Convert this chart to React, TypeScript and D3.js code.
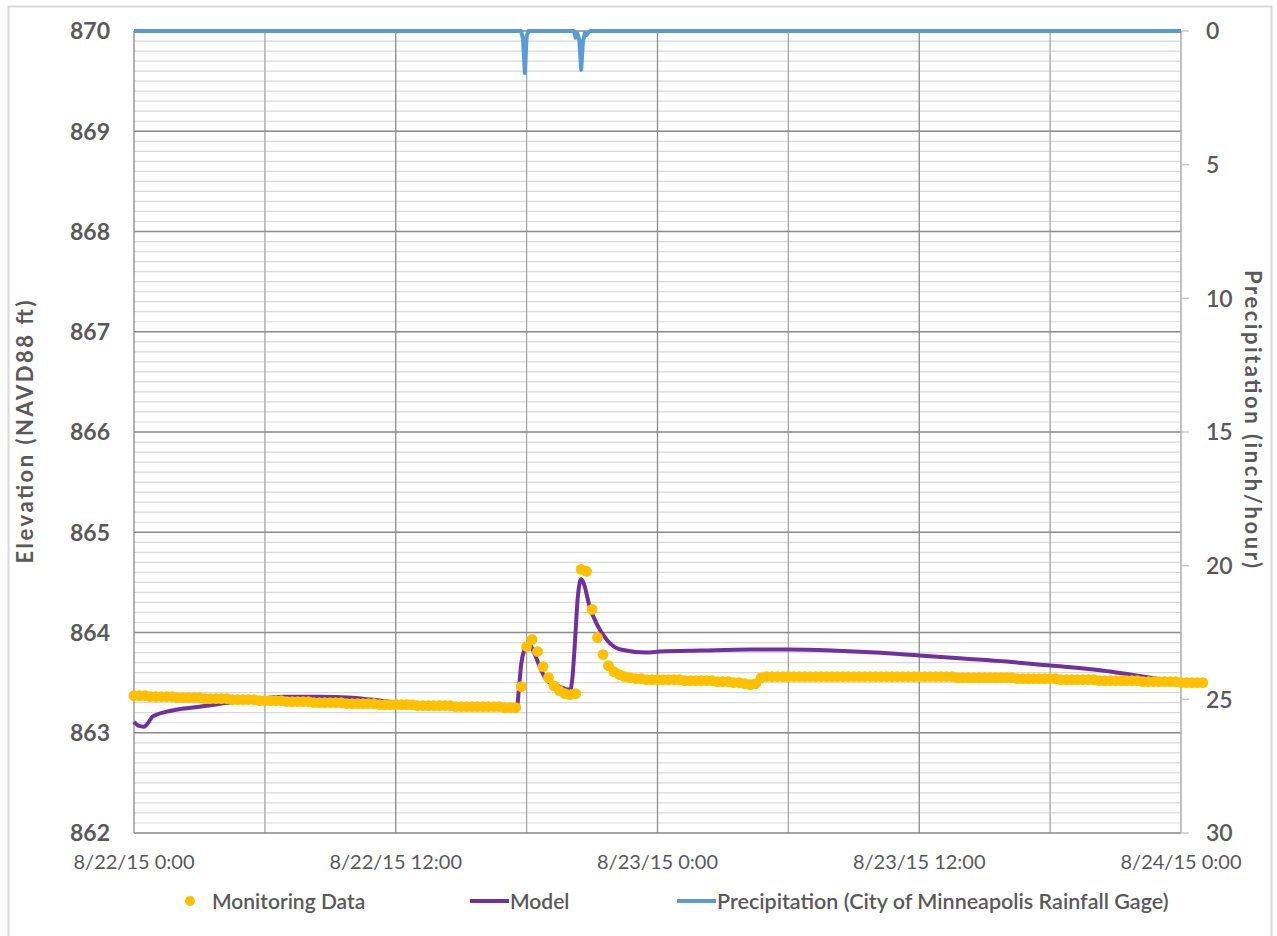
import React from "react";
import * as d3 from "d3";

// ---------- DATA ----------
const startDate = new Date(2015, 7, 22, 0, 0);
const xTickLabels = ["8/22/15 0:00", "8/22/15 12:00", "8/23/15 0:00", "8/23/15 12:00", "8/24/15 0:00"];
const xTickHours = [0, 12, 24, 36, 48];
const yLeftTicks = [862, 863, 864, 865, 866, 867, 868, 869, 870];
const yRightTicks = [0, 5, 10, 15, 20, 25, 30];

// Monitoring data, 15-minute readings from 8/22/15 0:00 to 8/24/15 0:00 (ft)
const monitoringValues = [
  863.37, 863.37, 863.37, 863.36, 863.36, 863.36, 863.36, 863.36,
  863.35, 863.35, 863.35, 863.35, 863.35, 863.34, 863.34, 863.34,
  863.34, 863.34, 863.33, 863.33, 863.33, 863.33, 863.33, 863.32,
  863.32, 863.32, 863.32, 863.32, 863.31, 863.31, 863.31, 863.31,
  863.31, 863.30, 863.30, 863.30, 863.30, 863.30, 863.30, 863.29,
  863.29, 863.29, 863.29, 863.29, 863.29, 863.28, 863.28, 863.28,
  863.28, 863.28, 863.28, 863.28, 863.27, 863.27, 863.27, 863.27,
  863.27, 863.27, 863.27, 863.26, 863.26, 863.26, 863.26, 863.26,
  863.26, 863.26, 863.26, 863.26, 863.25, 863.25, 863.25, 863.46,
  863.86, 863.93, 863.81, 863.66, 863.55, 863.47, 863.42, 863.39,
  863.38, 863.39, 864.63, 864.61, 864.23, 863.95, 863.78, 863.67,
  863.61, 863.58, 863.56, 863.55, 863.54, 863.54, 863.53, 863.53,
  863.53, 863.53, 863.53, 863.53, 863.53, 863.52, 863.52, 863.52,
  863.52, 863.52, 863.52, 863.51, 863.51, 863.51, 863.50, 863.50,
  863.49, 863.48, 863.49, 863.55, 863.56, 863.56, 863.56, 863.56,
  863.56, 863.56, 863.56, 863.56, 863.56, 863.56, 863.56, 863.56,
  863.56, 863.56, 863.56, 863.56, 863.56, 863.56, 863.56, 863.56,
  863.56, 863.56, 863.56, 863.56, 863.56, 863.56, 863.56, 863.56,
  863.56, 863.56, 863.56, 863.56, 863.56, 863.56, 863.56, 863.55,
  863.55, 863.55, 863.55, 863.55, 863.55, 863.55, 863.55, 863.55,
  863.55, 863.55, 863.54, 863.54, 863.54, 863.54, 863.54, 863.54,
  863.54, 863.54, 863.53, 863.53, 863.53, 863.53, 863.53, 863.53,
  863.53, 863.52, 863.52, 863.52, 863.52, 863.52, 863.52, 863.52,
  863.52, 863.51, 863.51, 863.51, 863.51, 863.51, 863.51, 863.51,
  863.50, 863.50, 863.50, 863.50, 863.50,
];

// Model output (hours since start, ft)
const modelHours = [
  0, 0.2, 0.45, 0.65, 0.85, 1.5, 3, 4.3, 5.5, 6.8, 8.5, 10, 11.7, 13, 15, 17, 17.55,
  17.65, 17.75, 17.9, 18.1, 18.3, 18.6, 18.9, 19.5, 20.0, 20.1, 20.2, 20.35, 20.5, 20.6,
  20.9, 21.2, 21.7, 22.3, 23.5, 24.1, 26, 28.2, 30, 32, 34, 36, 38, 40, 42, 44, 46, 48,
];
const modelValues = [
  863.11, 863.07, 863.06, 863.10, 863.16, 863.21, 863.26, 863.30, 863.33, 863.36, 863.36, 863.35, 863.31, 863.29, 863.27, 863.25, 863.25,
  863.45, 863.68, 863.83, 863.89, 863.82, 863.66, 863.53, 863.46, 863.43, 863.55, 863.85, 864.36, 864.53, 864.50,
  864.25, 864.09, 863.92, 863.83, 863.80, 863.81, 863.82, 863.83, 863.83, 863.82, 863.80, 863.77, 863.74, 863.71, 863.67, 863.63, 863.57, 863.50,
];

// Precipitation (hours since start, inch/hour)
const precipHours = [
  0, 17.75, 17.833, 17.917, 18.0, 18.083, 20.167, 20.25, 20.333, 20.417, 20.5, 20.583, 20.667, 20.75, 20.833, 20.917, 48,
];
const precipValues = [
  0, 0, 0.3, 1.57, 0.2, 0, 0, 0.25, 0.1, 0.35, 1.45, 0.4, 0.08, 0.15, 0.05, 0, 0,
];

// ---------- LAYOUT ----------
const W = 1277;
const H = 936;
const plot = { left: 134, right: 1181, top: 31, bottom: 833 };
const FONT = "Lato, 'Open Sans', 'DejaVu Sans', sans-serif";
const TEXT = "#595959";

const hourToDate = (h: number) => new Date(startDate.getTime() + h * 3600 * 1000);

export default function App() {
  const x = d3
    .scaleTime()
    .domain([hourToDate(0), hourToDate(48)])
    .range([plot.left, plot.right]);
  const y = d3.scaleLinear().domain([862, 870]).range([plot.bottom, plot.top]);
  const y2 = d3.scaleLinear().domain([0, 30]).range([plot.top, plot.bottom]);

  const minorY = y.ticks(80);
  const vGrid = d3.range(0, 49, 6);

  const modelLine = d3
    .line<number>()
    .x((_, i) => x(hourToDate(modelHours[i])))
    .y((d) => y(d))
    .curve(d3.curveMonotoneX);
  const precipLine = d3
    .line<number>()
    .x((_, i) => x(hourToDate(precipHours[i])))
    .y((d) => y2(d));

  const legendY = 901;

  return (
    <svg
      width={W}
      height={H}
      style={{ position: "absolute", left: 0, top: 0, background: "#fff" }}
      fontFamily={FONT}
    >
      <rect x={0} y={0} width={W} height={H} fill="#fff" />
      <rect x={8.5} y={6.5} width={1263} height={1000} fill="none" stroke="#D9D9D9" strokeWidth={2} />

      {/* minor horizontal grid */}
      {minorY.map((v, i) => (
        <line
          key={"mh" + i}
          x1={plot.left}
          x2={plot.right}
          y1={y(v)}
          y2={y(v)}
          stroke="#D9D9D9"
          strokeWidth={1.2}
        />
      ))}
      {/* vertical grid */}
      {vGrid.map((h) => (
        <line
          key={"vg" + h}
          x1={x(hourToDate(h))}
          x2={x(hourToDate(h))}
          y1={plot.top}
          y2={plot.bottom}
          stroke={h % 12 === 0 ? "#8C8C8C" : "#A6A6A6"}
          strokeWidth={h === 48 ? 1 : 1.3}
        />
      ))}
      {/* major horizontal grid */}
      {yLeftTicks.map((v) => (
        <line
          key={"MH" + v}
          x1={plot.left}
          x2={plot.right}
          y1={y(v)}
          y2={y(v)}
          stroke="#8C8C8C"
          strokeWidth={1.5}
        />
      ))}
      {/* right axis */}
      <line x1={plot.right} x2={plot.right} y1={plot.top} y2={plot.bottom} stroke="#BFBFBF" strokeWidth={1.2} />
      {yRightTicks.map((v) => (
        <g key={"rt" + v}>
          <line x1={plot.right} x2={plot.right + 8} y1={y2(v)} y2={y2(v)} stroke="#BFBFBF" strokeWidth={1.2} />
          <text
            x={plot.right + 25}
            y={y2(v)}
            dy="0.36em"
            fontSize={23}
            fontWeight={600}
            fill={TEXT}
          >
            {v}
          </text>
        </g>
      ))}

      {/* left tick labels */}
      {yLeftTicks.map((v) => (
        <text
          key={"lt" + v}
          x={110}
          y={y(v)}
          dy="0.36em"
          textAnchor="end"
          fontSize={23}
          fontWeight={700}
          fill={TEXT}
        >
          {v}
        </text>
      ))}

      {/* x tick labels */}
      {xTickLabels.map((lab, i) => (
        <text
          key={"xt" + i}
          x={x(hourToDate(xTickHours[i]))}
          y={862}
          dy="0.36em"
          textAnchor="middle"
          fontSize={20}
          fill={TEXT}
        >
          {lab}
        </text>
      ))}

      {/* axis titles */}
      <text
        transform={`translate(25,432) rotate(-90)`}
        textAnchor="middle"
        dy="0.36em"
        fontSize={22}
        fontWeight={700}
        fill={TEXT}
        textLength={263}
      >
        Elevation (NAVD88 ft)
      </text>
      <text
        transform={`translate(1253,419) rotate(90)`}
        textAnchor="middle"
        dy="0.36em"
        fontSize={22}
        fontWeight={700}
        fill={TEXT}
        textLength={298}
      >
        Precipitation (inch/hour)
      </text>

      {/* precipitation */}
      <path d={precipLine(precipValues) || ""} fill="none" stroke="#5B9BD5" strokeWidth={4} strokeLinejoin="round" />

      {/* model */}
      <path d={modelLine(modelValues) || ""} fill="none" stroke="#7030A0" strokeWidth={4} strokeLinejoin="round" />

      {/* monitoring data */}
      {monitoringValues.map((v, i) => (
        <circle key={"m" + i} cx={x(hourToDate(i * 0.25))} cy={y(v)} r={5.4} fill="#FFC000" />
      ))}

      {/* legend */}
      <circle cx={190} cy={legendY} r={5} fill="#FFC000" />
      <text x={212} y={legendY} dy="0.36em" fontSize={21} fontWeight={600} fill={TEXT}>
        Monitoring Data
      </text>
      <line x1={470} x2={509} y1={legendY} y2={legendY} stroke="#7030A0" strokeWidth={4} />
      <text x={510} y={legendY} dy="0.36em" fontSize={21} fontWeight={600} fill={TEXT}>
        Model
      </text>
      <line x1={677} x2={716} y1={legendY} y2={legendY} stroke="#5B9BD5" strokeWidth={4} />
      <text x={717} y={legendY} dy="0.36em" fontSize={21.5} fontWeight={600} fill={TEXT}>
        Precipitation (City of Minneapolis Rainfall Gage)
      </text>
    </svg>
  );
}
